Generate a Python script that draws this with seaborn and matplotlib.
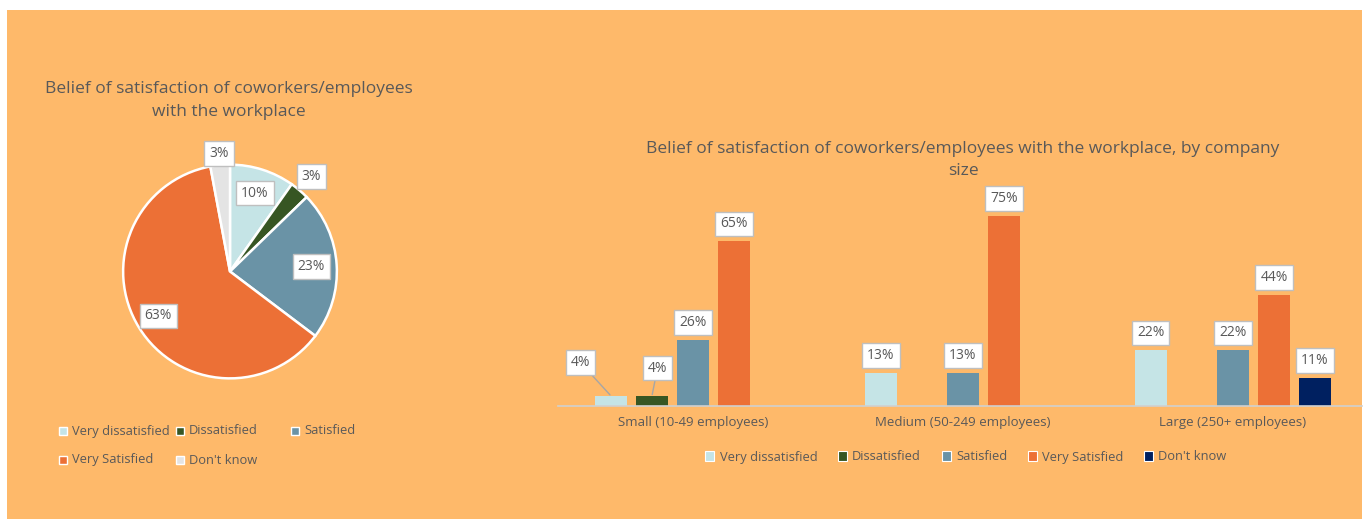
import numpy as np
import pandas as pd
import matplotlib
matplotlib.use("Agg")
import matplotlib.pyplot as plt
from matplotlib.patches import Rectangle, Patch
import seaborn as sns

# ---- data ----
responses = ["Very dissatisfied", "Dissatisfied", "Satisfied", "Very Satisfied", "Don't know"]
overall_pct = [10, 3, 23, 63, 3]

sizes = ["Small (10-49 employees)", "Medium (50-249 employees)", "Large (250+ employees)"]
small_pct = [4, 4, 26, 65, None]
medium_pct = [13, None, 13, 75, None]
large_pct = [22, None, 22, 44, 11]

pie_title = "Belief of satisfaction of coworkers/employees\nwith the workplace"
bar_title = "Belief of satisfaction of coworkers/employees with the workplace, by company\nsize"

pie_colors = ["#C5E4E6", "#375623", "#6A93A6", "#EC7036", "#E4E4E4"]
bar_colors = ["#C5E4E6", "#375623", "#6A93A6", "#EC7036", "#002060"]

BG = "#FEB96A"
TXT = "#595959"

sns.set_theme(style="white")
plt.rcParams["font.family"] = ["Open Sans", "DejaVu Sans"]

W, H = 1369, 519
fig = plt.figure(figsize=(W / 100, H / 100), dpi=100, facecolor="white")


def fx(px):
    return px / W


def fy(py):
    return (H - py) / H


# orange panel
fig.patches.append(Rectangle((fx(7), 0), fx(1362) - fx(7), fy(10), transform=fig.transFigure,
                             facecolor=BG, edgecolor="none", zorder=-10))

# ---- pie ----
cx, cy, r = 230, 271.5, 109
axp = fig.add_axes([fx(cx - r), fy(cy + r), 2 * r / W, 2 * r / H])
wedges, _ = axp.pie(overall_pct, colors=pie_colors, startangle=90, counterclock=False,
                    wedgeprops=dict(edgecolor="white", linewidth=1.8))
axp.set_xlim(-1.02, 1.02)
axp.set_ylim(-1.02, 1.02)
axp.set_aspect("equal")
axp.axis("off")
label_radius = [0.77, 1.17, 0.76, 0.79, 1.11]
box = dict(boxstyle="square,pad=0.35", facecolor="white", edgecolor="#BFBFBF", linewidth=1)
for w, v, lr in zip(wedges, overall_pct, label_radius):
    mid = np.deg2rad((w.theta1 + w.theta2) / 2)
    axp.text(lr * np.cos(mid), lr * np.sin(mid), f"{v}%", ha="center", va="center",
             fontsize=10, color=TXT, bbox=box, clip_on=False, zorder=5)

fig.text(fx(229), fy(100.5), pie_title, ha="center", va="center", fontsize=12.5,
         color=TXT, linespacing=1.55)

# pie legend, laid out in a 3-column grid
leg_cols = [62.5, 180, 295]
leg_rows = [431, 460]
for i, (name, col) in enumerate(zip(responses, pie_colors)):
    px = leg_cols[i % 3]
    py = leg_rows[i // 3]
    fig.patches.append(Rectangle((fx(px - 4), fy(py + 4)), 8 / W, 8 / H, transform=fig.transFigure,
                                 facecolor=col, edgecolor="white", linewidth=1))
    fig.text(fx(px + 9), fy(py), name, ha="left", va="center", fontsize=9.3, color=TXT)

# ---- grouped bars ----
rows = []
for size, vals in zip(sizes, [small_pct, medium_pct, large_pct]):
    for resp, v in zip(responses, vals):
        if v is not None:
            rows.append({"size": size, "response": resp, "pct": v})
df = pd.DataFrame(rows)

unit = 270  # pixels per category
left, right, base = 558, 1362, 406
ymax = 80
ppp = 2.533  # pixels per percentage point
axb = fig.add_axes([fx(left), fy(base), (right - left) / W, ymax * ppp / H])
axb.set_facecolor("none")
sns.barplot(data=df, x="size", y="pct", hue="response", order=sizes, hue_order=responses,
            palette=bar_colors, saturation=1, width=0.76, gap=0.217, legend=False,
            edgecolor="none", ax=axb)
axb.set_xlim(-0.5, -0.5 + (right - left) / unit)
axb.set_ylim(0, ymax)
axb.set_xlabel("")
axb.set_ylabel("")
axb.set_yticks([])
for s in ["left", "right", "top"]:
    axb.spines[s].set_visible(False)
axb.spines["bottom"].set_color("#D0D0D0")
axb.spines["bottom"].set_linewidth(1.2)
axb.tick_params(axis="x", length=0, pad=7, labelsize=9.5, labelcolor=TXT)

# callout offsets (points) for the short bars
special = {("Small (10-49 employees)", "Very dissatisfied"): (-22, 24),
           ("Small (10-49 employees)", "Dissatisfied"): (4, 20)}
for resp, cont in zip(responses, axb.containers):
    sub = df[df["response"] == resp]
    for bar, (_, row) in zip(cont, sub.iterrows()):
        x = bar.get_x() + bar.get_width() / 2
        h = bar.get_height()
        key = (row["size"], resp)
        if key in special:
            off = special[key]
            axb.annotate(f"{row['pct']}%", xy=(x, h), xytext=off, textcoords="offset points",
                         ha="center", va="center", fontsize=10, color=TXT, bbox=box,
                         annotation_clip=False,
                         arrowprops=dict(arrowstyle="-", color="#A6A6A6", lw=1,
                                         shrinkA=0, shrinkB=1))
        else:
            axb.annotate(f"{row['pct']}%", xy=(x, h), xytext=(0, 12.5), textcoords="offset points",
                         ha="center", va="center", fontsize=10, color=TXT, bbox=box,
                         annotation_clip=False)

fig.text(fx(963), fy(160), bar_title, ha="center", va="center", fontsize=12.5,
         color=TXT, linespacing=1.42)

handles = [Patch(facecolor=c, edgecolor="white", linewidth=0.8) for c in bar_colors]
fig.legend(handles, responses, loc="center", bbox_to_anchor=(fx(966), fy(457)),
           bbox_transform=fig.transFigure, ncol=5, frameon=False, fontsize=9.3,
           labelcolor=TXT, handlelength=0.7, handleheight=0.7, handletextpad=0.4,
           columnspacing=1.6)

fig.savefig("out.png", dpi=100, facecolor="white")
